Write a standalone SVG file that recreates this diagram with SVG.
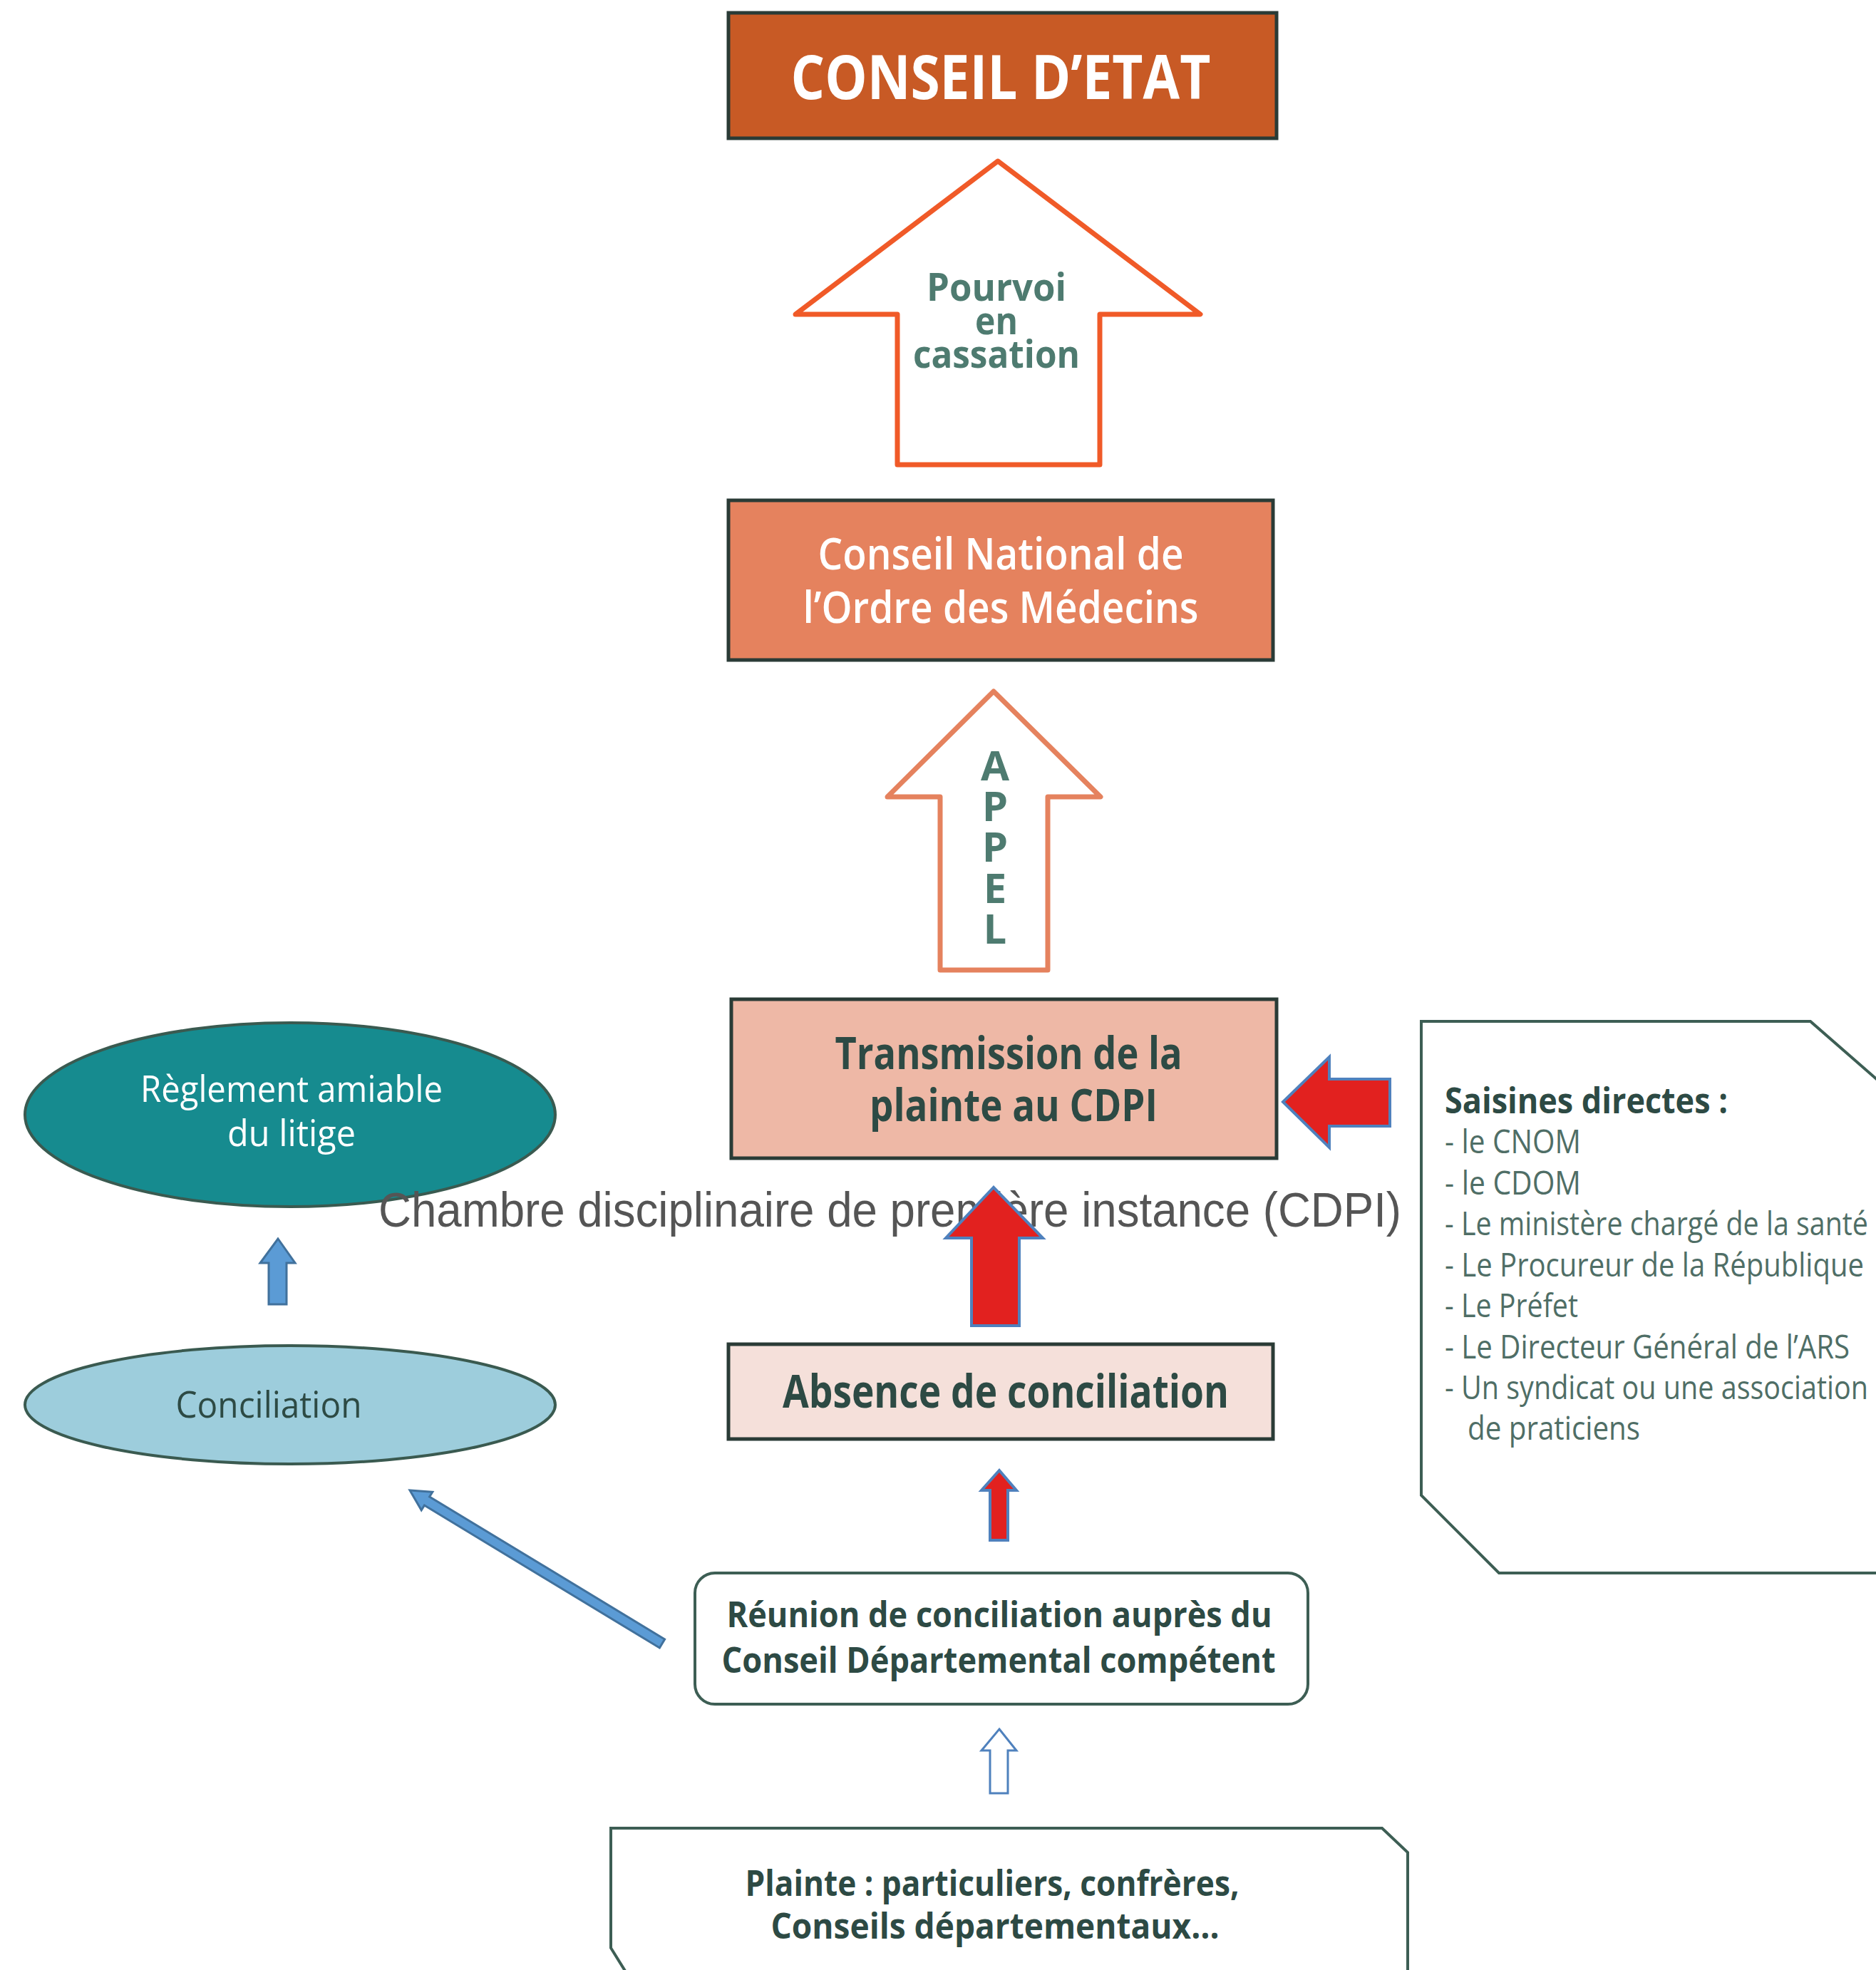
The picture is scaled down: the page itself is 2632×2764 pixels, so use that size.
<svg xmlns="http://www.w3.org/2000/svg" width="2632" height="2764" viewBox="0 0 2632 2764">
<style>
.box{stroke:#2A3B36;stroke-width:5}
.my{font-family:"Open Sans","Noto Sans","Liberation Sans",sans-serif}
.b{font-weight:700}
.dark{fill:#2D4A44}
.teal{fill:#4E7B70}
.wh{fill:#FFFFFF}
.red{fill:#E2211F;stroke:#4F81BD;stroke-width:4}
.blue{fill:#5B9BD5;stroke:#41719C;stroke-width:3}
.lst{font-family:"Open Sans","Noto Sans","Liberation Sans",sans-serif;font-weight:400;font-size:46px;fill:#4F6E66}
</style>
<rect width="2632" height="2764" fill="#FFFFFF"/>

<g id="conseil-etat">
<rect x="1022" y="18" width="769" height="176" fill="#C85A25" class="box"/>
<text x="1404" y="139" text-anchor="middle" class="my b wh" font-size="86" textLength="589" lengthAdjust="spacingAndGlyphs">CONSEIL D’ETAT</text>
</g>

<g id="pourvoi">
<polygon points="1400,226 1684,441 1543,441 1543,652 1259,652 1259,441 1116,441" fill="#FFFFFF" stroke="#F05A28" stroke-width="7" stroke-linejoin="round"/>
<text class="my b teal" font-size="54" text-anchor="middle"><tspan x="1398" y="422" textLength="196" lengthAdjust="spacingAndGlyphs">Pourvoi</tspan><tspan x="1398" y="469" textLength="60" lengthAdjust="spacingAndGlyphs">en</tspan><tspan x="1398" y="516" textLength="234" lengthAdjust="spacingAndGlyphs">cassation</tspan></text>
</g>

<g id="cnom">
<rect x="1022" y="702" width="764" height="224" fill="#E5825E" class="box"/>
<text x="1404" y="799" text-anchor="middle" class="my wh" font-size="62" font-weight="600" textLength="513" lengthAdjust="spacingAndGlyphs">Conseil National de</text>
<text x="1404" y="874" text-anchor="middle" class="my wh" font-size="62" font-weight="600" textLength="555" lengthAdjust="spacingAndGlyphs">l’Ordre des Médecins</text>
</g>

<g id="appel">
<polygon points="1394,970 1544,1118 1470,1118 1470,1361 1319,1361 1319,1118 1245,1118" fill="#FFFFFF" stroke="#E5825E" stroke-width="7" stroke-linejoin="round"/>
<text class="my b teal" font-size="58" text-anchor="middle"><tspan x="1396" y="1095">A</tspan><tspan x="1396" y="1152">P</tspan><tspan x="1396" y="1209">P</tspan><tspan x="1396" y="1267">E</tspan><tspan x="1396" y="1324">L</tspan></text>
</g>

<g id="transmission">
<rect x="1026" y="1402" width="765" height="223" fill="#EEB8A6" class="box"/>
<text x="1415" y="1500" text-anchor="middle" class="my b dark" font-size="62" textLength="487" lengthAdjust="spacingAndGlyphs">Transmission de la</text>
<text x="1422" y="1573" text-anchor="middle" class="my b dark" font-size="62" textLength="404" lengthAdjust="spacingAndGlyphs">plainte au CDPI</text>
</g>

<g id="saisines">
<path d="M2650,1529 L2540,1433 L1994,1433 L1994,2098 L2103,2207 L2650,2207" fill="#FFFFFF" stroke="#3D5E54" stroke-width="4"/>
<text x="2027" y="1562" class="my b dark" font-size="50" textLength="397" lengthAdjust="spacingAndGlyphs">Saisines directes :</text>
<text x="2027" y="1618" class="lst" textLength="191" lengthAdjust="spacingAndGlyphs">- le CNOM</text>
<text x="2027" y="1676" class="lst" textLength="191" lengthAdjust="spacingAndGlyphs">- le CDOM</text>
<text x="2027" y="1733" class="lst" textLength="594" lengthAdjust="spacingAndGlyphs">- Le ministère chargé de la santé</text>
<text x="2027" y="1791" class="lst" textLength="588" lengthAdjust="spacingAndGlyphs">- Le Procureur de la République</text>
<text x="2027" y="1848" class="lst" textLength="187" lengthAdjust="spacingAndGlyphs">- Le Préfet</text>
<text x="2027" y="1906" class="lst" textLength="568" lengthAdjust="spacingAndGlyphs">- Le Directeur Général de l’ARS</text>
<text x="2027" y="1963" class="lst" textLength="594" lengthAdjust="spacingAndGlyphs">- Un syndicat ou une association</text>
<text x="2059" y="2020" class="lst" textLength="242" lengthAdjust="spacingAndGlyphs">de praticiens</text>
</g>

<g id="reglement">
<ellipse cx="407" cy="1564" rx="372" ry="129" fill="#168B8F" stroke="#3A5A50" stroke-width="4"/>
<text x="409" y="1546" text-anchor="middle" class="my wh" font-size="52" textLength="424" lengthAdjust="spacingAndGlyphs">Règlement amiable</text>
<text x="409" y="1608" text-anchor="middle" class="my wh" font-size="52" textLength="180" lengthAdjust="spacingAndGlyphs">du litige</text>
</g>

<g id="conciliation">
<ellipse cx="407" cy="1971" rx="372" ry="83" fill="#9DCDDC" stroke="#3A5A50" stroke-width="4"/>
<text x="377" y="1989" text-anchor="middle" class="my dark" font-size="52" textLength="261" lengthAdjust="spacingAndGlyphs">Conciliation</text>
</g>

<g id="absence">
<rect x="1022" y="1886" width="764" height="133" fill="#F5E0DA" class="box"/>
<text x="1411" y="1975" text-anchor="middle" class="my b dark" font-size="64" textLength="626" lengthAdjust="spacingAndGlyphs">Absence de conciliation</text>
</g>

<g id="reunion">
<rect x="975" y="2207" width="860" height="184" rx="28" fill="#FFFFFF" stroke="#3D5E54" stroke-width="4"/>
<text x="1402" y="2283" text-anchor="middle" class="my b dark" font-size="50" textLength="765" lengthAdjust="spacingAndGlyphs">Réunion de conciliation auprès du</text>
<text x="1401" y="2347" text-anchor="middle" class="my b dark" font-size="50" textLength="777" lengthAdjust="spacingAndGlyphs">Conseil Départemental compétent</text>
</g>

<g id="plainte">
<path d="M880,2770 L857,2733 L857,2565 L1939,2565 L1975,2599 L1975,2770" fill="#FFFFFF" stroke="#3D5E54" stroke-width="4"/>
<text x="1392" y="2660" text-anchor="middle" class="my b dark" font-size="50" textLength="693" lengthAdjust="spacingAndGlyphs">Plainte : particuliers, confrères,</text>
<text x="1396" y="2720" text-anchor="middle" class="my b dark" font-size="50" textLength="629" lengthAdjust="spacingAndGlyphs">Conseils départementaux…</text>
</g>

<g id="cdpi-label">
<text x="531" y="1721" font-family="'Liberation Sans',Arial,sans-serif" font-size="68" fill="#555555" textLength="1435" lengthAdjust="spacingAndGlyphs">Chambre disciplinaire de première instance (CDPI)</text>
</g>

<g id="connectors">
<polygon class="red" points="1800,1546 1865,1483 1865,1514 1950,1514 1950,1580 1865,1580 1865,1610"/>
<polygon class="red" points="1394,1666 1463,1737 1430,1737 1430,1860 1363,1860 1363,1737 1327,1737"/>
<polygon class="red" points="1402,2063 1426,2091 1414,2091 1414,2161 1389,2161 1389,2091 1377,2091"/>
<polygon points="1402,2426 1426,2456 1414,2456 1414,2516 1389,2516 1389,2456 1377,2456" fill="#FFFFFF" stroke="#4F81BD" stroke-width="3"/>
<polygon class="blue" points="390,1738 414,1772 402,1772 402,1830 377,1830 377,1772 365,1772"/>
<polygon class="blue" points="932.6,2300 602.6,2100 606.8,2093.2 575,2091 591.2,2118.8 595.4,2112 925.4,2312"/>
</g>
</svg>
